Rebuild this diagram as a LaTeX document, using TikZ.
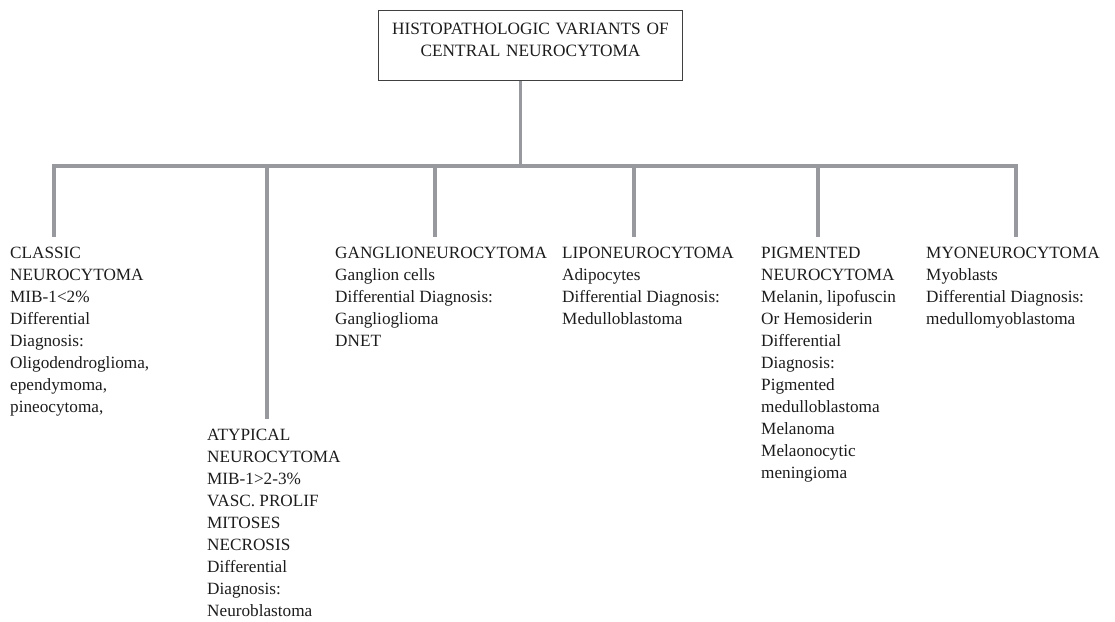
\documentclass[tikz,border=0pt]{standalone}
\usepackage{fontspec}
\setmainfont{Liberation Serif}
\definecolor{lineGray}{RGB}{152,153,158}
\definecolor{inkGray}{RGB}{28,28,28}

\begin{document}
\begin{tikzpicture}[
    x=1pt, y=-1pt,
    % 文本样式
    leafText/.style={
        anchor=north west, inner sep=0pt, align=left, text=inkGray,
        font=\fontsize{17.2}{22}\selectfont
    },
    rootText/.style={
        anchor=north, inner sep=0pt, text width=303pt, align=center, text=inkGray,
        font=\fontsize{17.3}{21.5}\selectfont
    },
    % 连线样式
    branchLine/.style={line width=3.5pt, draw=lineGray, line join=miter},
    rootFrame/.style={line width=0.9pt, draw=black!75}
]
    \useasboundingbox (0,0) rectangle (1115,621);

    % Root box (顶部标题)
    \node[rootText] (root) at (530.5,23) {HISTOPATHOLOGIC VARIANTS OF\\CENTRAL NEUROCYTOMA};
    \draw[rootFrame] ([yshift=13pt]root.north west) rectangle ([yshift=-24pt]root.south east);

    % 六个分支的文字
    \node[leafText] (classic) at (10,247) {CLASSIC\\NEUROCYTOMA\\MIB-1<2\%\\Differential\\Diagnosis:\\Oligodendroglioma,\\ependymoma,\\pineocytoma,};
    \node[leafText] (atypical) at (207,429) {ATYPICAL\\NEUROCYTOMA\\MIB-1>2-3\%\\VASC. PROLIF\\MITOSES\\NECROSIS\\Differential\\Diagnosis:\\Neuroblastoma};
    \node[leafText] (ganglio) at (335,247) {GANGLIONEUROCYTOMA\\Ganglion cells\\Differential Diagnosis:\\Ganglioglioma\\DNET};
    \node[leafText] (lipo) at (562,247) {LIPONEUROCYTOMA\\Adipocytes\\Differential Diagnosis:\\Medulloblastoma};
    \node[leafText] (pigmented) at (761,247) {PIGMENTED\\NEUROCYTOMA\\Melanin, lipofuscin\\Or Hemosiderin\\Differential\\Diagnosis:\\Pigmented\\medulloblastoma\\Melanoma\\Melaonocytic\\meningioma};
    \node[leafText] (myo) at (926,247) {MYONEUROCYTOMA\\Myoblasts\\Differential Diagnosis:\\medullomyoblastoma};

    % 横杆上的连接点
    \coordinate (rootStem) at (520.5,166);
    \coordinate (classicTop) at (54,166);
    \coordinate (atypicalTop) at (267,166);
    \coordinate (ganglioTop) at (435,166);
    \coordinate (lipoTop) at (634,166);
    \coordinate (pigmentedTop) at (818,166);
    \coordinate (myoTop) at (1016,166);

    % 主干与横杆
    \draw[branchLine, shorten >=24pt] (rootStem) -- (rootStem |- root.south);
    \draw[branchLine, shorten <=10pt, shorten >=10pt] (classicTop |- classic.north) -- (classicTop)
        -- (myoTop) -- (myoTop |- myo.north);

    % 中间的竖线
    \foreach \leaf in {atypical, ganglio, lipo, pigmented}
        \draw[branchLine, shorten >=10pt] (\leaf Top) -- (\leaf Top |- \leaf.north);
\end{tikzpicture}
\end{document}
